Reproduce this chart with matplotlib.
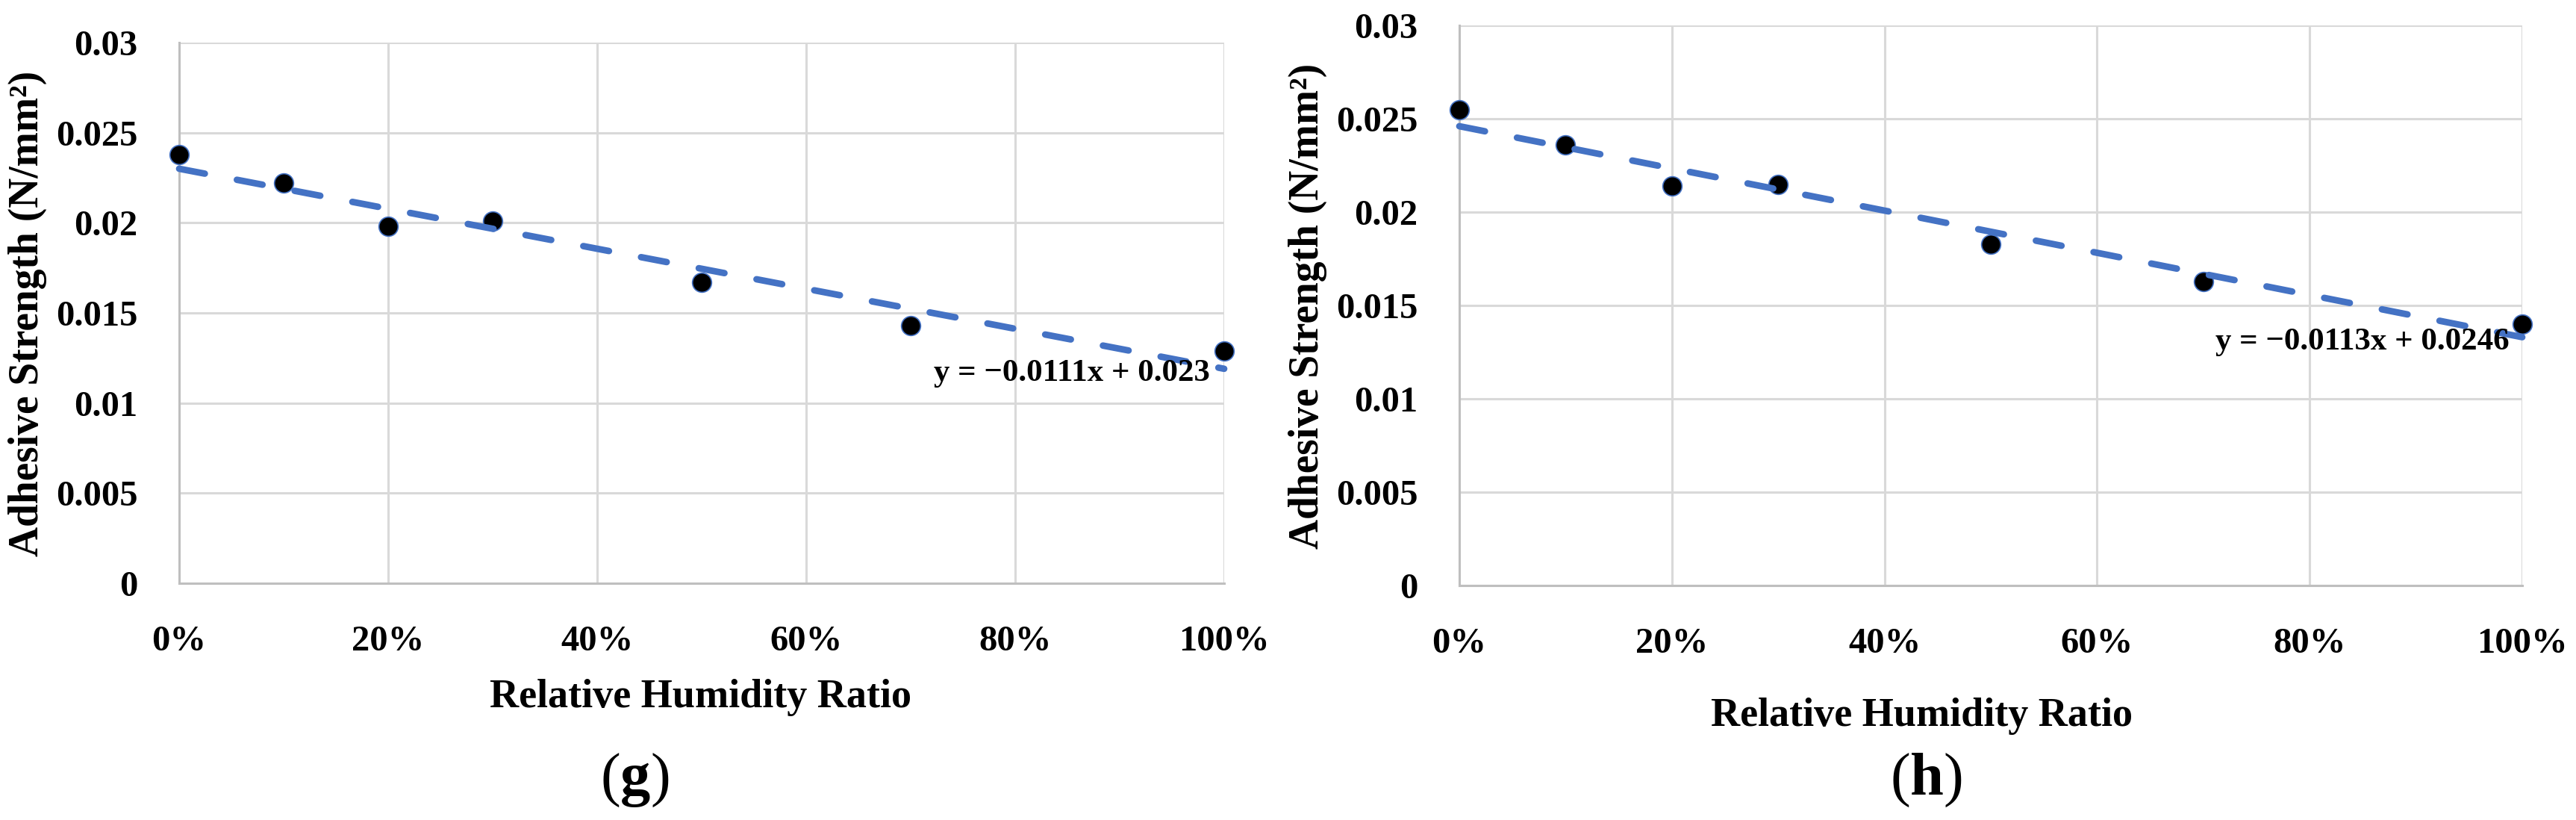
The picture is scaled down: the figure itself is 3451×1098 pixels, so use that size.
import numpy as np
import matplotlib.pyplot as plt
from matplotlib.ticker import FuncFormatter

plt.rcParams['font.family'] = ['Liberation Serif', 'DejaVu Serif']
plt.rcParams['mathtext.fontset'] = 'custom'
plt.rcParams['mathtext.rm'] = 'Liberation Serif'
plt.rcParams['mathtext.bf'] = 'Liberation Serif:bold'

# dados
humidity = [0.0, 0.1, 0.2, 0.3, 0.5, 0.7, 1.0]
strength_g = [0.0238, 0.0222, 0.0198, 0.0201, 0.0167, 0.0143, 0.0129]
strength_h = [0.0255, 0.0236, 0.0214, 0.0215, 0.0183, 0.0163, 0.0140]
trend_g = (-0.0111, 0.023)
trend_h = (-0.0113, 0.0246)
eq_g = 'y = \u22120.0111x + 0.023'
eq_h = 'y = \u22120.0113x + 0.0246'
y_ticks = [0, 0.005, 0.01, 0.015, 0.02, 0.025, 0.03]
x_ticks = [0, 0.2, 0.4, 0.6, 0.8, 1.0]

azul = '#4472C4'
grade = '#D9D9D9'
eixo = '#BFBFBF'

W, H = 3451, 1098
fig = plt.figure(figsize=(W / 100, H / 100), dpi=100)


def painel(rect, y, trend, eq, eq_pos, xlab_pos, ylab_pos, letra, letra_pos):
    ax = fig.add_axes(rect)
    ax.plot(humidity, y, 'o', color='black', markersize=18.5,
            markeredgecolor=azul, markeredgewidth=1.2, zorder=3, clip_on=False)
    xs = np.array([0.0, 1.0])
    ax.plot(xs, trend[0] * xs + trend[1], color=azul, linewidth=6.3,
            dashes=(4, 5), dash_capstyle='round', zorder=4, clip_on=False)

    ax.set_xlim(0, 1)
    ax.set_ylim(0, 0.03)
    ax.set_xticks(x_ticks)
    ax.set_yticks(y_ticks)
    ax.xaxis.set_major_formatter(FuncFormatter(lambda v, p: f'{v * 100:.0f}%'))
    ax.yaxis.set_major_formatter(FuncFormatter(lambda v, p: f'{v:g}'))
    ax.grid(True, color=grade, linewidth=2.2)
    ax.set_axisbelow(True)
    ax.tick_params(length=0, pad=40, labelsize=35)
    for lbl in ax.get_xticklabels() + ax.get_yticklabels():
        lbl.set_fontweight('bold')
    for s in ['top', 'right']:
        ax.spines[s].set_visible(False)
    for s in ['left', 'bottom']:
        ax.spines[s].set_color(eixo)
        ax.spines[s].set_linewidth(2.2)

    ax.set_xlabel('Relative Humidity Ratio', fontsize=39, fontweight='bold', va='center')
    ax.xaxis.set_label_coords(*xlab_pos)
    ax.set_ylabel('Adhesive Strength (N/mm\u00b2)', fontsize=40, fontweight='bold', va='center')
    ax.yaxis.set_label_coords(*ylab_pos)

    ax.text(eq_pos[0], eq_pos[1], eq, transform=ax.transAxes, ha='right', va='center',
            fontsize=31, fontweight='bold', zorder=5)
    fig.text(letra_pos[0], letra_pos[1], r'$(\mathbf{' + letra + '})$', ha='center',
             va='center', fontsize=58)
    return ax


painel([240 / W, 1 - 781 / H, 1400 / W, 724 / H], strength_g, trend_g, eq_g,
       (0.986, 0.388), (0.499, -0.212), (-0.145, 0.499), 'g', (850 / W, 1 - 1045 / H))
painel([1955 / W, 1 - 784 / H, 1424 / W, 750 / H], strength_h, trend_h, eq_h,
       (0.988, 0.435), (0.435, -0.234), (-0.1426, 0.499), 'h', (2580 / W, 1 - 1045 / H))

fig.savefig('out.png', dpi=100, facecolor='white')
